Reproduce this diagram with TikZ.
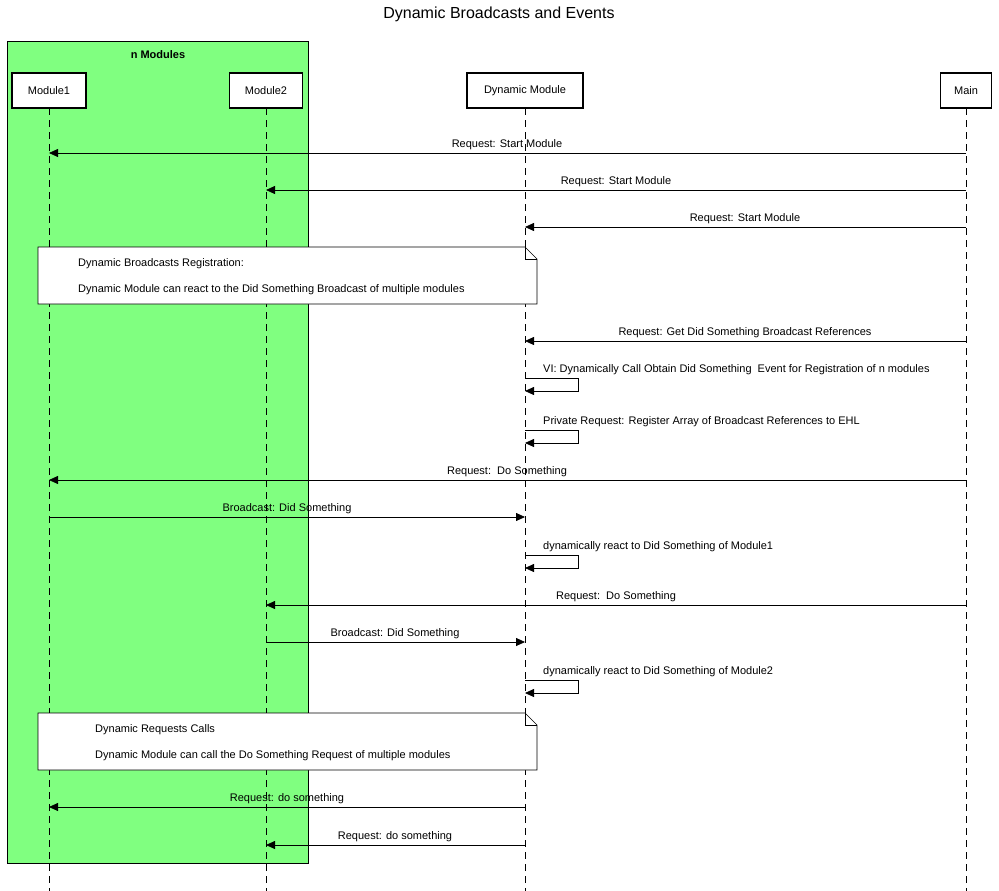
\documentclass[tikz,border=0pt]{standalone}
\usepackage{fontspec}
\setmainfont{Liberation Sans}
\usetikzlibrary{arrows.meta}
\begin{document}
\begin{tikzpicture}[x=1pt,y=-1pt,
  part/.style={draw,line width=1.5pt,fill=white,minimum height=35pt,inner sep=0pt,font=\fontsize{11}{13}\selectfont},
  life/.style={dash pattern=on 7pt off 5pt,line width=0.9pt},
  msg/.style={-{Triangle[length=9pt,width=8pt]},line width=0.8pt},
  lbl/.style={font=\fontsize{11}{13}\selectfont,anchor=base,inner sep=0pt},
  slbl/.style={font=\fontsize{11}{13}\selectfont,anchor=base west,inner sep=0pt},
  note/.style={draw,fill=white,line width=0.6pt}]
\useasboundingbox (0,0) rectangle (999,891);
\fill[white] (0,0) rectangle (999,891);
\node[font=\fontsize{16}{18}\selectfont] (title) at (499,14) {Dynamic Broadcasts and Events};
\draw[fill=green!45!white!95!black,fill=green!50!white] (7,41) rectangle (308,863);
\node[font=\bfseries\fontsize{11}{13}\selectfont] (grp) at (158,55) {n Modules};
% lifelines
\foreach \n/\x in {l1/49,l2/266,ld/525,lm/966}{
  \coordinate (\n t) at (\x,108); \coordinate (\n b) at (\x,891);
  \draw[life] (\n t) -- (\n b);}
\node[part,minimum width=74pt] (m1) at (49,90.5) {Module1};
\node[part,minimum width=73pt] (m2) at (266,90.5) {Module2};
\node[part,minimum width=116pt] (dm) at (525,90.5) {Dynamic Module};
\node[part,minimum width=51pt] (mn) at (966,90.5) {Main};
% helper macro
\newcommand{\msgto}[5]{% from x, to x, y, label, labelx
  \coordinate (a) at (#1,#3); \coordinate (b) at (#2,#3);
  \draw[msg] (a) -- (b);
  \node[lbl] at (#5,#3-6) {#4};}
\newcommand{\selfmsg}[2]{%
  \coordinate (s0) at (525,#1); \coordinate (s1) at (578,#1);
  \coordinate (s2) at (578,#1+13); \coordinate (s3) at (525,#1+13);
  \draw[msg] (s0) -- (s1) -- (s2) -- (s3);
  \node[slbl] at (543,#1-6) {#2};}
\msgto{966}{49}{153}{Request: Start Module}{507}
\msgto{966}{266}{190}{Request: Start Module}{616}
\msgto{966}{525}{227}{Request: Start Module}{745}
\draw[note] (38,247) -- (525,247) -- (537,259) -- (537,304) -- (38,304) -- cycle;
\draw[line width=0.6pt] (525,247) -- (525,259) -- (537,259);
\node[slbl] at (78,266) {Dynamic Broadcasts Registration:};
\node[slbl] at (78,292) {Dynamic Module can react to the Did Something Broadcast of multiple modules};
\msgto{966}{525}{341}{Request: Get Did Something Broadcast References}{745}
\selfmsg{378}{VI: Dynamically Call Obtain Did Something\ \ Event for Registration of n modules}
\selfmsg{430}{Private Request: Register Array of Broadcast References to EHL}
\msgto{966}{49}{480}{Request:\ \ Do Something}{507}
\msgto{49}{525}{517}{Broadcast: Did Something}{287}
\selfmsg{555}{dynamically react to Did Something of Module1}
\msgto{966}{266}{605}{Request:\ \ Do Something}{616}
\msgto{266}{525}{642}{Broadcast: Did Something}{395}
\selfmsg{680}{dynamically react to Did Something of Module2}
\draw[note] (38,713) -- (525,713) -- (537,725) -- (537,770) -- (38,770) -- cycle;
\draw[line width=0.6pt] (525,713) -- (525,725) -- (537,725);
\node[slbl] at (95,732) {Dynamic Requests Calls};
\node[slbl] at (95,758) {Dynamic Module can call the Do Something Request of multiple modules};
\msgto{525}{49}{807}{Request: do something}{287}
\msgto{525}{266}{845}{Request: do something}{395}
\end{tikzpicture}
\end{document}
